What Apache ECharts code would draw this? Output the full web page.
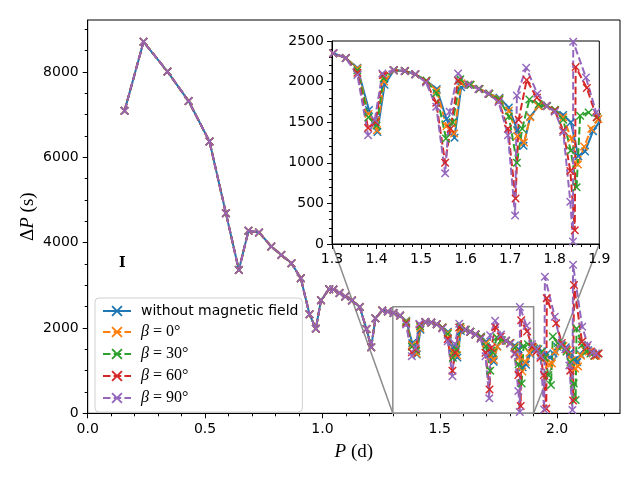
<!DOCTYPE html>
<html>
<head>
<meta charset="utf-8">
<script src="https://cdn.jsdelivr.net/npm/echarts@6/dist/echarts.min.js"></script>
<style>
  html, body { margin: 0; padding: 0; background: #fff; }
  #chart { width: 640px; height: 480px; }
</style>
</head>
<body>
<div id="chart"></div>
<script>
// shared part of every curve (P < 1.3 d), P in days, dP in seconds
const prefixP = [0.157, 0.238, 0.340, 0.430, 0.519, 0.589, 0.644, 0.685, 0.730, 0.782, 0.825, 0.868, 0.908,
    0.945, 0.972, 0.994, 1.029, 1.047, 1.073, 1.097, 1.126, 1.159, 1.188, 1.208, 1.226, 1.255, 1.279];
const prefixDP = [7090, 8710, 8010, 7320, 6370, 4690, 3360, 4280, 4240, 3910, 3710, 3520, 3165,
    2320, 1985, 2650, 2910, 2900, 2820, 2740, 2645, 2490, 1975, 1550, 2230, 2410, 2385];

// [P, dP] from 1.3 d on, one list per curve
const noFieldTail = [[1.303, 2350], [1.331, 2290], [1.357, 2170], [1.383, 1650], [1.402, 1380], [1.418, 1960],
    [1.439, 2140], [1.464, 2130], [1.487, 2090], [1.512, 2010], [1.535, 1910], [1.557, 1540], [1.575, 1310],
    [1.590, 1930], [1.610, 1960], [1.631, 1910], [1.653, 1850], [1.676, 1800], [1.697, 1680], [1.716, 1400],
    [1.730, 1210], [1.745, 1570], [1.764, 1700], [1.782, 1700], [1.800, 1650], [1.819, 1590], [1.836, 1500],
    [1.853, 1080], [1.868, 1140], [1.886, 1390], [1.902, 1520], [1.920, 1500], [1.937, 1450], [1.954, 1380],
    [1.970, 1300], [1.985, 1400], [2.001, 1560], [2.019, 1600], [2.037, 1550], [2.055, 1420], [2.071, 1250],
    [2.086, 1200], [2.100, 1380], [2.116, 1500], [2.133, 1480], [2.150, 1420], [2.166, 1380]];
const beta0Tail = [[1.303, 2350], [1.331, 2290], [1.357, 2160], [1.382, 1600], [1.401, 1400], [1.417, 2000],
    [1.439, 2140], [1.464, 2130], [1.487, 2090], [1.512, 2010], [1.535, 1890], [1.557, 1450], [1.574, 1360],
    [1.590, 1980], [1.611, 1960], [1.631, 1910], [1.653, 1850], [1.676, 1790], [1.697, 1640], [1.716, 1330],
    [1.731, 1250], [1.745, 1560], [1.763, 1700], [1.782, 1700], [1.800, 1650], [1.819, 1560], [1.837, 1300],
    [1.852, 980], [1.866, 1200], [1.882, 1420], [1.898, 1540], [1.916, 1500], [1.933, 1420], [1.950, 1300],
    [1.965, 1150], [1.978, 1170], [1.992, 1450], [2.009, 1600], [2.027, 1580], [2.045, 1480], [2.062, 1250],
    [2.077, 1050], [2.089, 1100], [2.102, 1350], [2.118, 1480], [2.135, 1450], [2.152, 1400], [2.168, 1350]];
const beta30Tail = [[1.303, 2350], [1.331, 2290], [1.357, 2140], [1.382, 1560], [1.400, 1460], [1.416, 2040],
    [1.439, 2140], [1.464, 2130], [1.487, 2090], [1.512, 2010], [1.534, 1860], [1.556, 1300], [1.571, 1500],
    [1.588, 2030], [1.611, 1960], [1.631, 1910], [1.653, 1850], [1.676, 1780], [1.697, 1570], [1.715, 1000],
    [1.727, 1420], [1.743, 1780], [1.764, 1720], [1.783, 1700], [1.801, 1650], [1.819, 1530], [1.836, 1150],
    [1.849, 700], [1.857, 1580], [1.876, 1620], [1.895, 1560], [1.913, 1520], [1.931, 1430], [1.948, 1300],
    [1.963, 900], [1.974, 665], [1.982, 1800], [2.003, 1650], [2.022, 1580], [2.040, 1450], [2.057, 1200],
    [2.071, 700], [2.079, 310], [2.083, 1990], [2.106, 1600], [2.125, 1450], [2.142, 1400], [2.158, 1350],
    [2.174, 1400]];
const beta60Tail = [[1.303, 2350], [1.331, 2290], [1.357, 2110], [1.381, 1430], [1.398, 1500], [1.414, 2080],
    [1.438, 2140], [1.463, 2130], [1.487, 2090], [1.511, 2000], [1.534, 1740], [1.554, 1000], [1.566, 1420],
    [1.583, 2010], [1.606, 1960], [1.629, 1910], [1.651, 1850], [1.674, 1760], [1.695, 1420], [1.712, 560],
    [1.719, 1530], [1.737, 2020], [1.760, 1800], [1.781, 1700], [1.800, 1640], [1.819, 1400], [1.835, 900],
    [1.845, 170], [1.847, 2180], [1.872, 1920], [1.894, 1560], [1.912, 1450], [1.929, 1300], [1.944, 900],
    [1.954, 110], [1.956, 2700], [1.996, 2110], [2.020, 1650], [2.039, 1500], [2.056, 1000], [2.068, 300],
    [2.072, 3010], [2.106, 1680], [2.126, 1550], [2.144, 1450], [2.161, 1350], [2.177, 1400]];
const beta90Tail = [[1.303, 2350], [1.331, 2290], [1.357, 2080], [1.381, 1340], [1.396, 1530], [1.413, 2100],
    [1.438, 2140], [1.463, 2130], [1.487, 2090], [1.511, 1990], [1.534, 1690], [1.554, 870], [1.564, 1630],
    [1.583, 2100], [1.607, 1960], [1.629, 1910], [1.651, 1850], [1.674, 1750], [1.695, 1340], [1.711, 350],
    [1.715, 1830], [1.736, 2170], [1.761, 1850], [1.782, 1700], [1.800, 1630], [1.819, 1380], [1.835, 520],
    [1.841, 30], [1.8415, 2490], [1.870, 2050], [1.893, 1620], [1.912, 1500], [1.929, 1350], [1.945, 90],
    [1.948, 3200], [1.990, 2265], [2.016, 1620], [2.035, 1500], [2.052, 1120], [2.065, 80], [2.068, 3480],
    [2.107, 2030], [2.131, 1600], [2.150, 1420], [2.166, 1400]];

const seriesNames = ['without magnetic field', 'β=0°', 'β=30°', 'β=60°', 'β=90°'];
const tails = [noFieldTail, beta0Tail, beta30Tail, beta60Tail, beta90Tail];
const colors = ['#1f77b4', '#ff7f0e', '#2ca02c', '#d62728', '#9467bd'];

const xTicks = [0, 0.5, 1.0, 1.5, 2.0];
const yTicks = [0, 2000, 4000, 6000, 8000];
const zoomBox = { x: [1.3, 1.9], y: [0, 2500] };

const xMinor = [];
for ( let i = 1; i <= 22; i++ ) { if ( i % 5 ) xMinor.push( i / 10 ); }
const yMinor = [];
for ( let v = 500; v <= 9000; v += 500 ) { if ( v % 2000 ) yMinor.push( v ); }

const crossPath = 'path://M0,1.2L1.2,0L5,3.8L8.8,0L10,1.2L6.2,5L10,8.8L8.8,10L5,6.2L1.2,10L0,8.8L3.8,5Z';
const tickFont = { fontFamily: 'DejaVu Sans', fontSize: 14, color: '#000' };
const blackLine = { lineStyle: { color: '#000', width: 1 } };
const plainNumber = v => String( v );

const chart = echarts.init( document.getElementById( 'chart' ), null, { renderer: 'canvas' } );

const makeSeries = ( idx, inset ) => {
    const data = prefixP.map( ( p, i ) => [ p, prefixDP[ i ] ] ).concat( tails[ idx ] );
    const s = {
        name: seriesNames[ idx ],
        type: 'line',
        xAxisIndex: inset ? 2 : 0,
        yAxisIndex: inset ? 2 : 0,
        data: data,
        symbol: crossPath,
        symbolSize: 8.5,
        showSymbol: true,
        showAllSymbol: true,
        clip: true,
        z: inset ? 12 : 2,
        itemStyle: { color: colors[ idx ] },
        lineStyle: {
            color: colors[ idx ],
            width: 2,
            type: idx === 0 ? 'solid' : [ 7.5, 3.2 ],
        },
        emphasis: { disabled: true },
    };
    if ( idx === 0 && !inset ) {
        s.markArea = {
            silent: true,
            itemStyle: { color: 'rgba(0,0,0,0)', borderColor: '#8c8c8c', borderWidth: 1.5 },
            data: [ [ { coord: [ zoomBox.x[ 0 ], zoomBox.y[ 0 ] ] }, { coord: [ zoomBox.x[ 1 ], zoomBox.y[ 1 ] ] } ] ],
        };
    }
    return s;
};

const series = [];
for ( let i = 0; i < 5; i++ ) series.push( makeSeries( i, false ) );
for ( let i = 0; i < 5; i++ ) series.push( makeSeries( i, true ) );

const nameRich = {
    i: { fontFamily: 'Liberation Serif', fontStyle: 'italic', fontSize: 19, color: '#000' },
    r: { fontFamily: 'Liberation Serif', fontSize: 19, color: '#000' },
};

const option = {
    animation: false,
    backgroundColor: '#fff',
    grid: [
        { left: 87.7, top: 20, width: 532.3, height: 393.3, show: true, borderColor: '#000', borderWidth: 1 },
        { left: 332, top: 41, width: 267.3, height: 203, show: true, backgroundColor: '#fff',
          borderColor: '#000', borderWidth: 1, z: 10 },
    ],
    xAxis: [
        {
            type: 'value', gridIndex: 0, position: 'bottom', min: 0, max: 2.268, interval: 0.5,
            axisLine: blackLine,
            axisTick: { show: true, length: 5, customValues: xTicks, lineStyle: { color: '#000' } },
            axisLabel: Object.assign( { margin: 9, customValues: xTicks, formatter: v => v.toFixed( 1 ) }, tickFont ),
            splitLine: { show: false },
            name: '{i|P}{r| (d)}',
            nameLocation: 'middle',
            nameGap: 29,
            nameMoveOverlap: false,
            nameTextStyle: { rich: nameRich },
        },
        {
            type: 'value', gridIndex: 0, position: 'bottom', min: 0, max: 2.268,
            axisLine: { show: false },
            axisTick: { show: true, length: 3, customValues: xMinor, lineStyle: { color: '#000' } },
            axisLabel: { show: false },
            splitLine: { show: false },
        },
        {
            type: 'value', gridIndex: 1, position: 'bottom', min: zoomBox.x[ 0 ], max: zoomBox.x[ 1 ], interval: 0.1, z: 11,
            axisLine: blackLine,
            axisTick: { show: true, length: 5, lineStyle: { color: '#000' } },
            minorTick: { show: true, splitNumber: 5, length: 3, lineStyle: { color: '#000' } },
            axisLabel: Object.assign( { margin: 8, formatter: v => v.toFixed( 1 ) }, tickFont ),
            splitLine: { show: false },
        },
    ],
    yAxis: [
        {
            type: 'value', gridIndex: 0, position: 'left', min: 0, max: 9220, interval: 2000,
            axisLine: blackLine,
            axisTick: { show: true, length: 5, customValues: yTicks, lineStyle: { color: '#000' } },
            axisLabel: Object.assign( { margin: 9, customValues: yTicks, formatter: plainNumber }, tickFont ),
            splitLine: { show: false },
            name: '{r|Δ}{i|P}{r| (s)}',
            nameLocation: 'middle',
            nameRotate: 90,
            nameGap: 50,
            nameMoveOverlap: false,
            nameTextStyle: { rich: nameRich },
        },
        {
            type: 'value', gridIndex: 0, position: 'left', min: 0, max: 9220,
            axisLine: { show: false },
            axisTick: { show: true, length: 3, customValues: yMinor, lineStyle: { color: '#000' } },
            axisLabel: { show: false },
            splitLine: { show: false },
        },
        {
            type: 'value', gridIndex: 1, position: 'left', min: zoomBox.y[ 0 ], max: zoomBox.y[ 1 ], interval: 500, z: 11,
            axisLine: blackLine,
            axisTick: { show: true, length: 5, lineStyle: { color: '#000' } },
            minorTick: { show: true, splitNumber: 5, length: 3, lineStyle: { color: '#000' } },
            axisLabel: Object.assign( { margin: 8, formatter: plainNumber }, tickFont ),
            splitLine: { show: false },
        },
    ],
    legend: {
        orient: 'vertical',
        left: 95,
        top: 298,
        data: seriesNames,
        itemWidth: 28,
        itemHeight: 14,
        itemGap: 6,
        padding: [ 6, 4, 6, 7 ],
        backgroundColor: 'rgba(255,255,255,0.8)',
        borderColor: '#d0d0d0',
        borderWidth: 1,
        borderRadius: 4,
        selectedMode: false,
        z: 20,
        formatter: name => {
            if ( name.startsWith( 'β' ) ) {
                return '{i|β}{r|' + name.slice( 1 ).replace( '=', ' = ' ) + '}';
            }
            return name;
        },
        textStyle: {
            fontFamily: 'DejaVu Sans',
            fontSize: 14,
            color: '#000',
            padding: [ 0, 0, 0, 5 ],
            rich: {
                i: { fontFamily: 'Liberation Serif', fontStyle: 'italic', fontSize: 16, color: '#000' },
                r: { fontFamily: 'Liberation Serif', fontSize: 16, color: '#000' },
            },
        },
    },
    graphic: [
        {
            id: 'label-I', type: 'text', left: 119, top: 256, z: 5,
            style: { text: 'I', font: 'bold 14px "DejaVu Serif"', fill: '#000' },
        },
    ],
    series: series,
};

chart.setOption( option );

// zoom connector lines from the box in the main axes to the inset corners
const boxLeft = chart.convertToPixel( { xAxisIndex: 0, yAxisIndex: 0 }, [ zoomBox.x[ 0 ], zoomBox.y[ 0 ] ] );
const boxRight = chart.convertToPixel( { xAxisIndex: 0, yAxisIndex: 0 }, [ zoomBox.x[ 1 ], zoomBox.y[ 0 ] ] );
const insetLeft = chart.convertToPixel( { xAxisIndex: 2, yAxisIndex: 2 }, [ zoomBox.x[ 0 ], zoomBox.y[ 0 ] ] );
const insetRight = chart.convertToPixel( { xAxisIndex: 2, yAxisIndex: 2 }, [ zoomBox.x[ 1 ], zoomBox.y[ 0 ] ] );

chart.setOption( {
    graphic: [
        {
            id: 'conn-left', type: 'line', z: 1, silent: true,
            shape: { x1: boxLeft[ 0 ], y1: boxLeft[ 1 ], x2: insetLeft[ 0 ], y2: insetLeft[ 1 ] },
            style: { stroke: '#8c8c8c', lineWidth: 1.5 },
        },
        {
            id: 'conn-right', type: 'line', z: 1, silent: true,
            shape: { x1: boxRight[ 0 ], y1: boxRight[ 1 ], x2: insetRight[ 0 ], y2: insetRight[ 1 ] },
            style: { stroke: '#8c8c8c', lineWidth: 1.5 },
        },
    ],
} );

window.addEventListener( 'resize', () => { chart.resize(); } );
</script>
</body>
</html>
